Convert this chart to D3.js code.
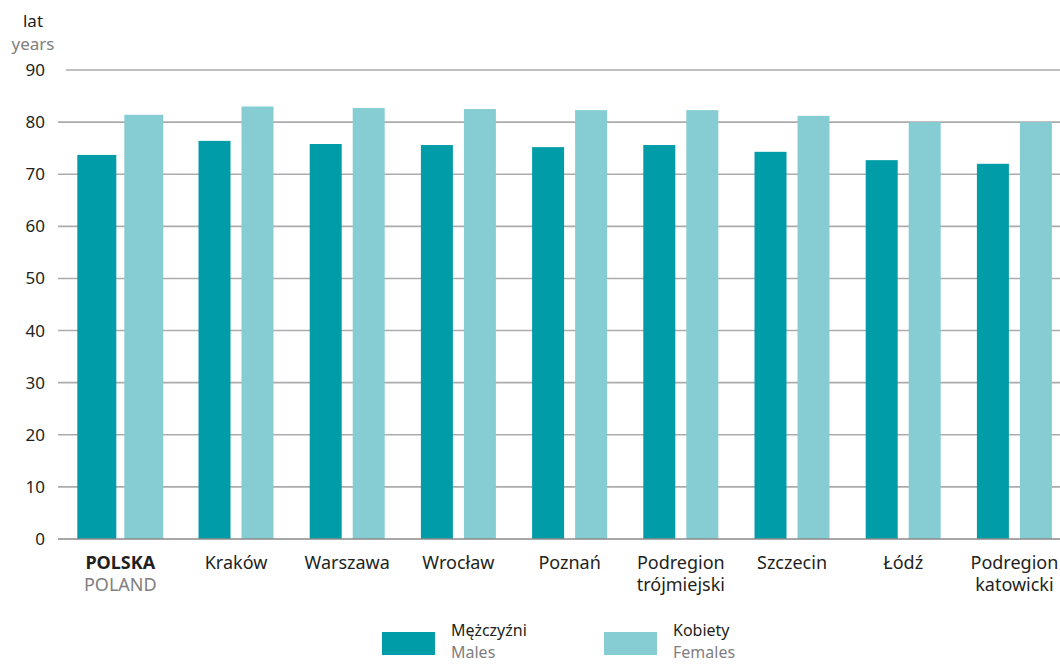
<!DOCTYPE html>
<html>
<head>
<meta charset="utf-8">
<script src="https://cdn.jsdelivr.net/npm/d3@7"></script>
<style>
  body { margin: 0; background: #fff; }
  svg { display: block; font-family: "Noto Sans", sans-serif; }
</style>
</head>
<body>
<div id="chart"></div>
<script>
(() => {
  const categories = ["POLSKA", "Kraków", "Warszawa", "Wrocław", "Poznań", "Podregion trójmiejski", "Szczecin", "Łódź", "Podregion katowicki"];
  const labelLines = [["POLSKA", "POLAND"], ["Kraków"], ["Warszawa"], ["Wrocław"], ["Poznań"], ["Podregion", "trójmiejski"], ["Szczecin"], ["Łódź"], ["Podregion", "katowicki"]];
  const males = [73.7, 76.4, 75.8, 75.6, 75.2, 75.6, 74.3, 72.7, 72.0];
  const females = [81.4, 83.0, 82.7, 82.5, 82.3, 82.3, 81.2, 80.0, 80.0];
  const yTicks = [0, 10, 20, 30, 40, 50, 60, 70, 80, 90];
  const seriesNames = [["Mężczyźni", "Males"], ["Kobiety", "Females"]];
  const colors = ["#009ca8", "#86cdd3"];

  const width = 1060, height = 664;
  const dark = "#231f20", gray = "#808080";

  const svg = d3.select("#chart").append("svg")
    .attr("width", width).attr("height", height);

  const x = d3.scaleBand().domain(categories).range([69.2, 1070]);
  const y = d3.scaleLinear().domain([0, 90]).range([539, 70]);

  // gridlines
  svg.append("g").selectAll("line")
    .data(yTicks.filter(t => t > 0))
    .join("line")
    .attr("x1", d => d === 90 ? 66 : 58)
    .attr("x2", width)
    .attr("y1", d => y(d)).attr("y2", d => y(d))
    .attr("stroke", "#ababab")
    .attr("stroke-width", 1.6);

  // y tick labels
  svg.append("g").selectAll("text")
    .data(yTicks)
    .join("text")
    .attr("x", 45)
    .attr("y", d => y(d) + 6)
    .attr("text-anchor", "end")
    .attr("fill", dark)
    .style("font-size", "17px")
    .text(d => d);

  svg.append("text").attr("x", 33).attr("y", 27).attr("text-anchor", "middle")
    .attr("fill", dark).style("font-size", "17px").text("lat");
  svg.append("text").attr("x", 33).attr("y", 50).attr("text-anchor", "middle")
    .attr("fill", gray).style("font-size", "17px").text("years");

  // bars
  const groups = svg.append("g").selectAll("g")
    .data(categories)
    .join("g")
    .attr("transform", (d, i) => `translate(${x(d) + x.bandwidth() / 2 - (i === 0 ? 4.5 : 0)},0)`);

  groups.each(function (c, i) {
    const bw = i === 0 ? 39 : 32;
    const gap = i === 0 ? 8 : 11;
    const vals = [males[i], females[i]];
    d3.select(this).selectAll("rect")
      .data(vals)
      .join("rect")
      .attr("x", (d, j) => j === 0 ? -gap / 2 - bw : gap / 2)
      .attr("width", bw)
      .attr("y", d => y(d))
      .attr("height", d => y(0) - y(d))
      .attr("fill", (d, j) => colors[j]);
  });

  // baseline
  svg.append("line")
    .attr("x1", 58).attr("x2", width)
    .attr("y1", y(0)).attr("y2", y(0))
    .attr("stroke", "#8a8a8a").attr("stroke-width", 1.6);

  // x labels
  groups.each(function (c, i) {
    const t = d3.select(this).append("text")
      .attr("text-anchor", "middle")
      .style("font-size", "18px");
    labelLines[i].forEach((line, k) => {
      t.append("tspan")
        .attr("x", 0)
        .attr("y", 569 + k * 22)
        .attr("fill", i === 0 && k === 1 ? gray : dark)
        .style("font-weight", i === 0 && k === 0 ? "bold" : "normal")
        .text(line);
    });
  });

  // legend
  const legendX = [382, 604];
  const legend = svg.append("g").selectAll("g")
    .data(seriesNames)
    .join("g")
    .attr("transform", (d, i) => `translate(${legendX[i]},0)`);
  legend.append("rect")
    .attr("x", 0).attr("y", 632).attr("width", 53).attr("height", 23)
    .attr("fill", (d, i) => colors[i]);
  legend.append("text")
    .attr("x", 69).attr("y", 636)
    .attr("fill", dark).style("font-size", "16px")
    .text(d => d[0]);
  legend.append("text")
    .attr("x", 69).attr("y", 658)
    .attr("fill", gray).style("font-size", "16px")
    .text(d => d[1]);
})();
</script>
</body>
</html>
